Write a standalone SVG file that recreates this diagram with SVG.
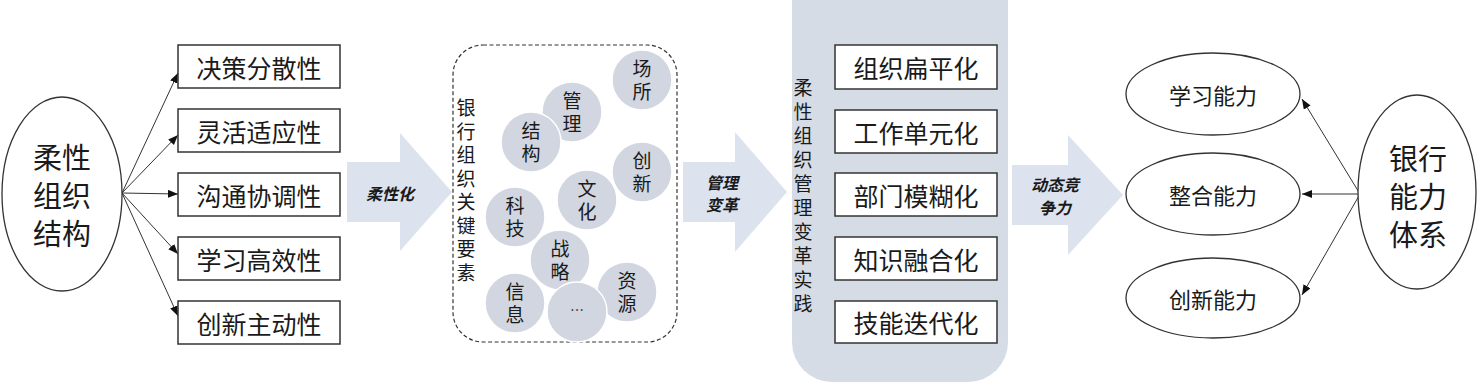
<svg xmlns="http://www.w3.org/2000/svg" width="1480" height="384" viewBox="0 0 1480 384">
<style>
text{font-family:"Noto Sans CJK SC","Liberation Sans",sans-serif;fill:#1a1a1a;text-anchor:middle;dominant-baseline:central}
.v{writing-mode:vertical-rl;dominant-baseline:auto}
.box{fill:#fff;stroke:#333;stroke-width:1.5}
.ell{fill:#fff;stroke:#333;stroke-width:1.3}
.big{font-size:29px}
.bt{font-size:25px}
.et{font-size:22px}
.vt{font-size:19px}
.ct{font-size:19px;letter-spacing:4px}
.at{font-size:16px;font-style:italic;font-weight:bold}
.blk{fill:#dce3ef}
.circ{fill:#d1d6e0;stroke:#fff;stroke-width:1.5}
.con{stroke:#333;stroke-width:1;fill:none;marker-end:url(#ah)}
</style>
<defs>
<marker id="ah" markerUnits="userSpaceOnUse" markerWidth="12" markerHeight="10" refX="10" refY="4" orient="auto">
<path d="M0,0 L10,4 L0,8 Z" fill="#111"/>
</marker>
</defs>
<rect width="1480" height="384" fill="#fff"/>

<g id="connectors">
<line class="con" x1="122" y1="193" x2="178" y2="73"/>
<line class="con" x1="122" y1="193" x2="178" y2="135"/>
<line class="con" x1="122" y1="193" x2="178" y2="194"/>
<line class="con" x1="122" y1="193" x2="178" y2="254"/>
<line class="con" x1="122" y1="193" x2="178" y2="316"/>
<line class="con" x1="1360" y1="194" x2="1302" y2="99"/>
<line class="con" x1="1360" y1="194" x2="1302" y2="194"/>
<line class="con" x1="1360" y1="194" x2="1302" y2="295"/>
</g>

<g id="flex-structure">
<ellipse class="ell" cx="62" cy="194" rx="60" ry="97"/>
<text class="big" x="62" y="156">柔性</text>
<text class="big" x="62" y="194">组织</text>
<text class="big" x="62" y="232">结构</text>
</g>

<g id="left-boxes">
<g id="b1"><rect class="box" x="178" y="45" width="162" height="43"/><text class="bt" x="259" y="66.5">决策分散性</text></g>
<g id="b2"><rect class="box" x="178" y="109" width="162" height="43"/><text class="bt" x="259" y="130.5">灵活适应性</text></g>
<g id="b3"><rect class="box" x="178" y="173" width="162" height="43"/><text class="bt" x="259" y="194.5">沟通协调性</text></g>
<g id="b4"><rect class="box" x="178" y="237" width="162" height="43"/><text class="bt" x="259" y="258.5">学习高效性</text></g>
<g id="b5"><rect class="box" x="178" y="301" width="162" height="43"/><text class="bt" x="259" y="322.5">创新主动性</text></g>
</g>

<g id="arrow-flex">
<polygon class="blk" points="347,162 400,162 400,133 452,192 400,251 400,222 347,222"/>
<text class="at" x="390" y="193">柔性化</text>
</g>

<g id="key-elements">
<rect x="453" y="45" width="224" height="297" rx="30" fill="#fff" stroke="#333" stroke-width="1.2" stroke-dasharray="4,2.5"/>
<text class="vt v" x="466" y="192.5" style="letter-spacing:4.5px">银行组织关键要素</text>
<g id="c-changsuo"><circle class="circ" cx="642" cy="80" r="30"/><text class="ct v" x="642" y="82">场所</text></g>
<g id="c-guanli"><circle class="circ" cx="572" cy="112" r="30"/><text class="ct v" x="572" y="114">管理</text></g>
<g id="c-jiegou"><circle class="circ" cx="531" cy="142" r="30"/><text class="ct v" x="531" y="144">结构</text></g>
<g id="c-chuangxin"><circle class="circ" cx="642" cy="172" r="30"/><text class="ct v" x="642" y="174">创新</text></g>
<g id="c-wenhua"><circle class="circ" cx="587" cy="200" r="30"/><text class="ct v" x="587" y="202">文化</text></g>
<g id="c-keji"><circle class="circ" cx="515" cy="217" r="30"/><text class="ct v" x="515" y="219">科技</text></g>
<g id="c-zhanlue"><circle class="circ" cx="560" cy="260" r="30"/><text class="ct v" x="560" y="262">战略</text></g>
<g id="c-ziyuan"><circle class="circ" cx="627" cy="292" r="30"/><text class="ct v" x="627" y="294">资源</text></g>
<g id="c-xinxi"><circle class="circ" cx="515" cy="303" r="30"/><text class="ct v" x="515" y="305">信息</text></g>
<g id="c-more"><circle class="circ" cx="577" cy="312" r="30"/><text x="577" y="309" style="font-size:14px">…</text></g>
</g>

<g id="arrow-reform">
<polygon class="blk" points="683,162 735,162 735,132 787,192 735,252 735,222 683,222"/>
<text class="at" x="722" y="182">管理</text>
<text class="at" x="722" y="204">变革</text>
</g>

<g id="practice">
<rect x="792" y="-40" width="216" height="422" rx="40" fill="#d6dce6"/>
<text class="vt v" x="803" y="198.5" style="letter-spacing:5px">柔性组织管理变革实践</text>
<g id="p1"><rect class="box" x="835" y="45" width="162" height="44"/><text class="bt" x="916" y="67">组织扁平化</text></g>
<g id="p2"><rect class="box" x="835" y="110" width="162" height="43"/><text class="bt" x="916" y="131.5">工作单元化</text></g>
<g id="p3"><rect class="box" x="835" y="173" width="162" height="43"/><text class="bt" x="916" y="194.5">部门模糊化</text></g>
<g id="p4"><rect class="box" x="835" y="237" width="162" height="43"/><text class="bt" x="916" y="258.5">知识融合化</text></g>
<g id="p5"><rect class="box" x="835" y="301" width="162" height="42"/><text class="bt" x="916" y="322">技能迭代化</text></g>
</g>

<g id="arrow-compete">
<polygon class="blk" points="1012,165 1068,165 1068,135 1123,195 1068,255 1068,225 1012,225"/>
<text class="at" x="1055" y="184">动态竞</text>
<text class="at" x="1055" y="207">争力</text>
</g>

<g id="learn"><ellipse class="ell" cx="1213" cy="94" rx="87" ry="41"/><text class="et" x="1213" y="94">学习能力</text></g>
<g id="integrate"><ellipse class="ell" cx="1213" cy="194" rx="87" ry="41"/><text class="et" x="1213" y="194">整合能力</text></g>
<g id="innovate"><ellipse class="ell" cx="1213" cy="298" rx="87" ry="40"/><text class="et" x="1213" y="298">创新能力</text></g>

<g id="bank-capability">
<ellipse class="ell" cx="1417" cy="192" rx="59" ry="97"/>
<text class="big" x="1418" y="157">银行</text>
<text class="big" x="1418" y="195">能力</text>
<text class="big" x="1418" y="233">体系</text>
</g>
</svg>
